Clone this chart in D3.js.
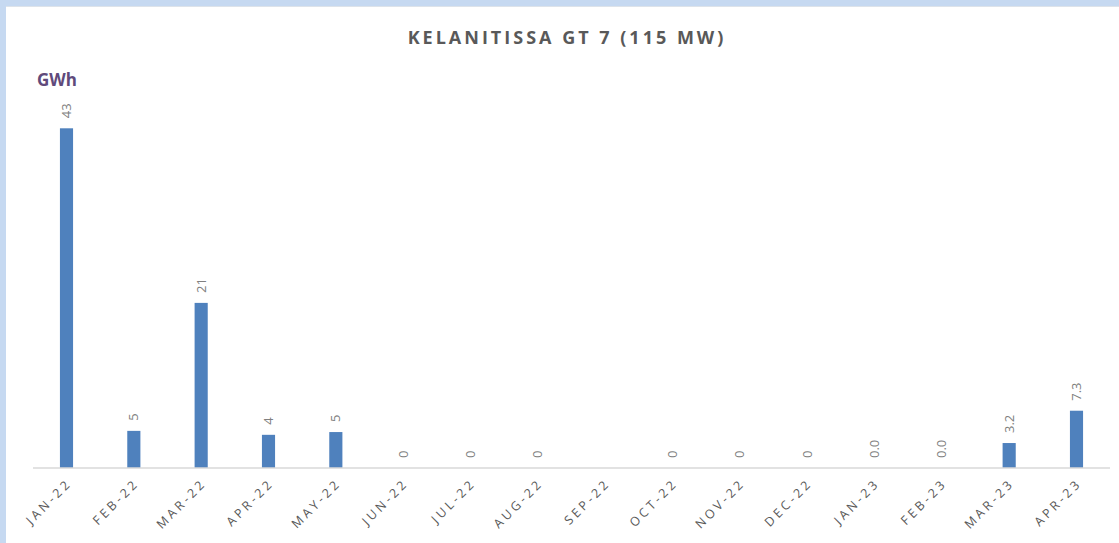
<!DOCTYPE html>
<html>
<head>
  <meta charset="utf-8">
  <script src="https://d3js.org/d3.v7.min.js"></script>
  <style>
    body { margin: 0; background: #c6d9f1; }
    svg { display: block; }
    .title { font-family: "Open Sans", sans-serif; font-weight: bold; font-size: 18px; fill: #595959; letter-spacing: 3px; }
    .unit { font-family: "Open Sans", sans-serif; font-weight: bold; font-size: 17px; fill: #604a7b; }
    .vlabel { font-family: "Open Sans", sans-serif; font-size: 13px; fill: #808080; }
    .x.axis text { font-family: "Open Sans", sans-serif; font-size: 12.5px; fill: #595959; letter-spacing: 3.2px; }
  </style>
</head>
<body>
<svg id="chart" width="1119" height="543"></svg>
<script>
  // data
  const months = ["JAN-22", "FEB-22", "MAR-22", "APR-22", "MAY-22", "JUN-22", "JUL-22", "AUG-22",
                  "SEP-22", "OCT-22", "NOV-22", "DEC-22", "JAN-23", "FEB-23", "MAR-23", "APR-23"];
  const gwh = [43, 4.7, 20.9, 4.2, 4.55, 0, 0, 0, null, 0, 0, 0, 0, 0, 3.16, 7.25];
  const valueLabels = ["43", "5", "21", "4", "5", "0", "0", "0", "", "0", "0", "0", "0.0", "0.0", "3.2", "7.3"];

  const svg = d3.select("#chart");
  const width = +svg.attr("width");
  const height = +svg.attr("height");

  // white panel
  svg.append("rect").attr("x", 6).attr("y", 6).attr("width", width - 6).attr("height", height - 6)
     .attr("fill", "white");
  svg.append("line").attr("x1", 6).attr("x2", width).attr("y1", 6.5).attr("y2", 6.5)
     .attr("stroke", "#dde3ea");

  const margin = {top: 73, right: 9, bottom: 75, left: 33};
  const baseline = height - margin.bottom;

  const xScale = d3.scaleBand().domain(months).range([margin.left, width - margin.right])
                   .paddingInner(0.805).paddingOuter(0.4);
  const yScale = d3.scaleLinear().domain([0, 50]).range([baseline, margin.top]);

  svg.append("text").attr("class", "title")
     .attr("x", 567).attr("y", 44).attr("text-anchor", "middle")
     .text("KELANITISSA GT 7 (115 MW)");

  svg.append("text").attr("class", "unit")
     .attr("x", 37).attr("y", 86).text("GWh");

  const bars = months.map((m, i) => ({month: m, value: gwh[i], label: valueLabels[i]}));

  svg.append("g").selectAll("rect").data(bars.filter(d => d.value !== null))
     .join("rect")
     .attr("x", d => xScale(d.month))
     .attr("y", d => yScale(d.value))
     .attr("width", xScale.bandwidth())
     .attr("height", d => yScale(0) - yScale(d.value))
     .attr("fill", "#4f81bd");

  // x axis
  const xAxis = d3.axisBottom(xScale).tickSize(0).tickPadding(0);
  const axisG = svg.append("g").attr("class", "x axis")
     .attr("transform", `translate(0,${baseline})`)
     .call(xAxis);
  axisG.select(".domain").attr("stroke", "#d9d9d9").attr("stroke-width", 1.5)
     .attr("d", `M${margin.left},0H${width - margin.right}`);
  axisG.selectAll(".tick text")
     .attr("fill", "#595959")
     .attr("text-anchor", "end")
     .attr("dy", 0).attr("y", 0)
     .attr("transform", "translate(6,16) rotate(-45)");

  // value labels
  svg.append("g").selectAll("text").data(bars.filter(d => d.label !== ""))
     .join("text")
     .attr("class", "vlabel")
     .attr("text-anchor", "start")
     .attr("transform", d => `translate(${xScale(d.month) + xScale.bandwidth() / 2 + 4.5},${yScale(d.value || 0) - 10}) rotate(-90)`)
     .text(d => d.label);
</script>
</body>
</html>
